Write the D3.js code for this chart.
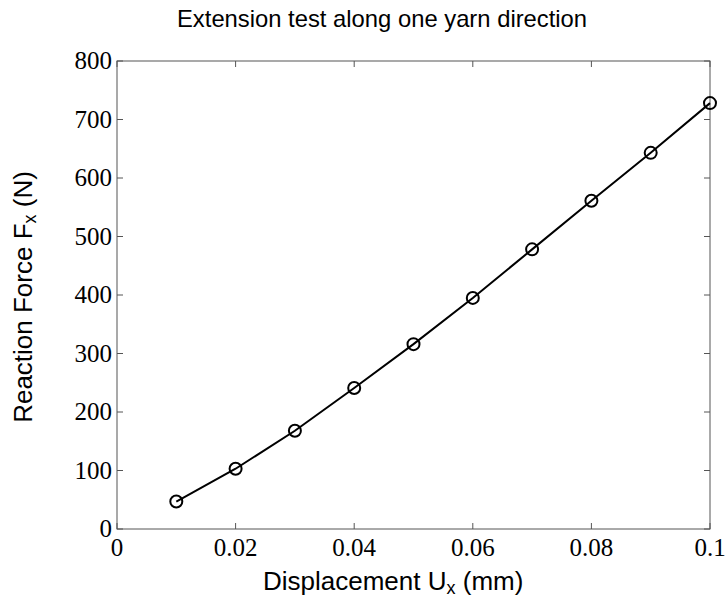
<!DOCTYPE html>
<html>
<head>
<meta charset="utf-8">
<script src="https://cdn.jsdelivr.net/npm/d3@7.9.0/dist/d3.min.js"></script>
<style>
  body { margin: 0; background: #fff; }
  svg { display: block; }
</style>
</head>
<body>
<svg id="chart" width="726" height="603"></svg>
<script>
// data
const displacement = [0.01, 0.02, 0.03, 0.04, 0.05, 0.06, 0.07, 0.08, 0.09, 0.1];
const force = [47, 103, 168, 241, 316, 395, 478, 561, 643, 728];
const xTicks = [0, 0.02, 0.04, 0.06, 0.08, 0.1];
const xTickLabels = ['0', '0.02', '0.04', '0.06', '0.08', '0.1'];
const yTicks = [0, 100, 200, 300, 400, 500, 600, 700, 800];

const svg = d3.select('#chart');
const plotLeft = 117, plotRight = 710, plotTop = 61, plotBottom = 529;

const x = d3.scaleLinear().domain([0, 0.1]).range([plotLeft, plotRight]);
const y = d3.scaleLinear().domain([0, 800]).range([plotBottom, plotTop]);

const axisColor = '#555';
const tickLen = 6;

// box
svg.append('rect')
  .attr('x', plotLeft).attr('y', plotTop)
  .attr('width', plotRight - plotLeft).attr('height', plotBottom - plotTop)
  .attr('fill', 'none')
  .attr('stroke', axisColor)
  .attr('stroke-width', 1);

// ticks (inward, on all four sides)
const g = svg.append('g').attr('stroke', axisColor).attr('stroke-width', 1);
xTicks.forEach(t => {
  g.append('line').attr('x1', x(t)).attr('x2', x(t)).attr('y1', plotBottom).attr('y2', plotBottom - tickLen);
  g.append('line').attr('x1', x(t)).attr('x2', x(t)).attr('y1', plotTop).attr('y2', plotTop + tickLen);
});
yTicks.forEach(t => {
  g.append('line').attr('x1', plotLeft).attr('x2', plotLeft + tickLen).attr('y1', y(t)).attr('y2', y(t));
  g.append('line').attr('x1', plotRight).attr('x2', plotRight - tickLen).attr('y1', y(t)).attr('y2', y(t));
});

// tick labels
const serif = '"Liberation Serif", "Times New Roman", serif';
svg.append('g').selectAll('text')
  .data(xTicks)
  .join('text')
  .attr('x', d => x(d))
  .attr('y', 556)
  .attr('text-anchor', 'middle')
  .attr('font-family', serif)
  .attr('font-size', 25)
  .attr('fill', '#000')
  .text((d, i) => xTickLabels[i]);

svg.append('g').selectAll('text')
  .data(yTicks)
  .join('text')
  .attr('x', plotLeft - 5)
  .attr('y', d => y(d))
  .attr('dy', '0.33em')
  .attr('text-anchor', 'end')
  .attr('font-family', serif)
  .attr('font-size', 25)
  .attr('fill', '#000')
  .text(d => d);

// line + markers
const line = d3.line()
  .x((d, i) => x(displacement[i]))
  .y(d => y(d));

svg.append('path')
  .datum(force)
  .attr('d', line)
  .attr('fill', 'none')
  .attr('stroke', '#000')
  .attr('stroke-width', 2);

svg.append('g').selectAll('circle')
  .data(force)
  .join('circle')
  .attr('cx', (d, i) => x(displacement[i]))
  .attr('cy', d => y(d))
  .attr('r', 6)
  .attr('fill', 'none')
  .attr('stroke', '#000')
  .attr('stroke-width', 2);

// title and axis labels
const sans = '"Liberation Sans", Arial, Helvetica, sans-serif';
svg.append('text')
  .attr('x', 177).attr('y', 27)
  .attr('font-family', sans).attr('font-size', 23.8)
  .attr('fill', '#000')
  .text('Extension test along one yarn direction');

const xl = svg.append('text')
  .attr('x', 263).attr('y', 590)
  .attr('font-family', sans).attr('font-size', 26)
  .attr('fill', '#000');
xl.append('tspan').text('Displacement U');
xl.append('tspan').attr('font-size', 18).attr('dy', 4).text('x');
xl.append('tspan').attr('dy', -4).text(' (mm)');

const yl = svg.append('text')
  .attr('transform', 'translate(32,297) rotate(-90)')
  .attr('text-anchor', 'middle')
  .attr('font-family', sans).attr('font-size', 26)
  .attr('fill', '#000');
yl.append('tspan').text('Reaction Force F');
yl.append('tspan').attr('font-size', 18).attr('dy', 4).text('x');
yl.append('tspan').attr('dy', -4).text(' (N)');
</script>
</body>
</html>
